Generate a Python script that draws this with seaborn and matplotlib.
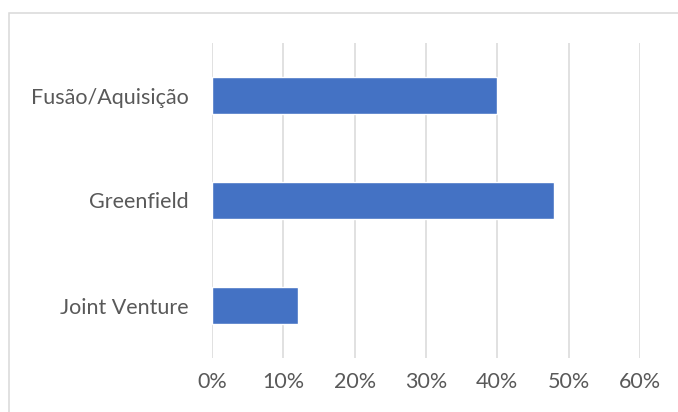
import pandas as pd
import seaborn as sns
import matplotlib.pyplot as plt
from matplotlib.patches import Rectangle
from matplotlib.ticker import PercentFormatter

categorias = ['Fusão/Aquisição', 'Greenfield', 'Joint Venture']
valores = [40, 48, 12]
ticks_x = [0, 10, 20, 30, 40, 50, 60]

df = pd.DataFrame({'tipo': categorias, 'pct': valores})

sns.set_style('white')
plt.rcParams['font.family'] = ['Lato', 'DejaVu Sans']

fig = plt.figure(figsize=(6.78, 4.12), dpi=100)
ax = fig.add_axes([212 / 678, 54 / 412, 428 / 678, 315 / 412])

sns.barplot(data=df, y='tipo', x='pct', orient='h', color='#4472C4',
            saturation=1, width=0.35, ax=ax)

ax.set_xlim(0, 60)
ax.set_ylim(2.5, -0.5)
ax.set_xticks(ticks_x)
ax.xaxis.set_major_formatter(PercentFormatter(decimals=0))
ax.set_xlabel('')
ax.set_ylabel('')
ax.grid(axis='x', color='#d9d9d9', linewidth=1.1)
ax.set_axisbelow(True)
for s in ax.spines.values():
    s.set_visible(False)
ax.tick_params(axis='both', length=0, labelsize=15.5, labelcolor='#595959')
ax.tick_params(axis='y', pad=17)
ax.tick_params(axis='x', pad=10)

# borda do gráfico
fig.patches.append(Rectangle((9 / 678, -0.1), 1.2, (412 - 13.5) / 412 + 0.1,
                             transform=fig.transFigure, fill=False,
                             edgecolor='#d9d9d9', linewidth=1.1))

fig.savefig('out.png', dpi=100)
